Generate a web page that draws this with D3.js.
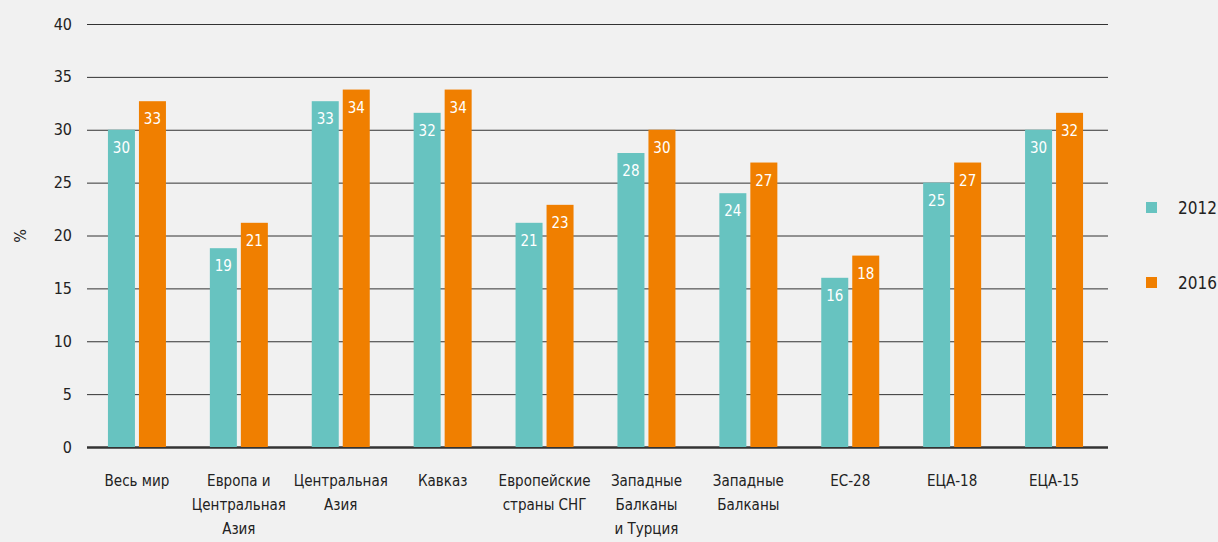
<!DOCTYPE html>
<html>
<head>
<meta charset="utf-8">
<script src="https://cdn.jsdelivr.net/npm/d3@7"></script>
<style>
  body { margin: 0; background: #f1f1f1; }
  svg { display: block; font-family: "Liberation Sans Narrow", "DejaVu Sans Condensed", sans-serif; font-stretch: condensed; }
</style>
</head>
<body>
<div id="chart"></div>
<script>
var categories = [
  ["Весь мир"],
  ["Европа и", "Центральная", "Азия"],
  ["Центральная", "Азия"],
  ["Кавказ"],
  ["Европейские", "страны СНГ"],
  ["Западные", "Балканы", "и Турция"],
  ["Западные", "Балканы"],
  ["ЕС-28"],
  ["ЕЦА-18"],
  ["ЕЦА-15"]
];
var values2012 = [30, 18.8, 32.7, 31.6, 21.2, 27.8, 24, 16, 25, 30];
var values2016 = [32.7, 21.2, 33.8, 33.8, 22.9, 30, 26.9, 18.1, 26.9, 31.6];
var labels2012 = [30, 19, 33, 32, 21, 28, 24, 16, 25, 30];
var labels2016 = [33, 21, 34, 34, 23, 30, 27, 18, 27, 32];
var series = ["2012", "2016"];
var colors = ["#67c3c0", "#f07f00"];
var yTicks = [0, 5, 10, 15, 20, 25, 30, 35, 40];

var width = 1218, height = 542;
var plotLeft = 87, plotRight = 1108, plotTop = 24, plotBottom = 447;

var svg = d3.select("#chart").append("svg")
    .attr("width", width)
    .attr("height", height);

var x = d3.scaleBand()
    .domain(d3.range(categories.length))
    .range([plotLeft - 1, plotRight - 3]);

var y = d3.scaleLinear()
    .domain([0, 40])
    .range([plotBottom, plotTop]);

/* grid lines and tick labels */
svg.append("g")
    .selectAll("line")
    .data(yTicks)
    .enter().append("line")
    .attr("x1", plotLeft)
    .attr("x2", plotRight)
    .attr("y1", function(d) { return y(d) + 0.5; })
    .attr("y2", function(d) { return y(d) + 0.5; })
    .attr("stroke", "#333")
    .attr("stroke-width", function(d) { return d == 0 ? 2.5 : 1; });

svg.append("g")
    .selectAll("text")
    .data(yTicks)
    .enter().append("text")
    .attr("x", 72)
    .attr("y", function(d) { return y(d); })
    .attr("dy", "0.35em")
    .attr("text-anchor", "end")
    .attr("font-size", 16)
    .attr("fill", "#222")
    .text(function(d) { return d; });

svg.append("text")
    .attr("transform", "translate(26,236) rotate(-90)")
    .attr("text-anchor", "middle")
    .attr("font-size", 16)
    .attr("fill", "#222")
    .text("%");

var barW = 27, gap = 4;
var groupOff = (x.bandwidth() - (2 * barW + gap)) / 2;

var allValues = [values2012, values2016];
var allLabels = [labels2012, labels2016];

allValues.forEach(function(vals, s) {
  var g = svg.append("g");
  g.selectAll("rect")
    .data(vals)
    .enter().append("rect")
    .attr("x", function(d, i) { return x(i) + groupOff + s * (barW + gap); })
    .attr("y", function(d) { return y(d); })
    .attr("width", barW)
    .attr("height", function(d) { return y(0) - y(d); })
    .attr("fill", colors[s]);

  g.selectAll("text")
    .data(vals)
    .enter().append("text")
    .attr("x", function(d, i) { return x(i) + groupOff + s * (barW + gap) + barW / 2; })
    .attr("y", function(d) { return y(d) + 18; })
    .attr("dy", "0.35em")
    .attr("text-anchor", "middle")
    .attr("font-size", 15)
    .attr("fill", "#fff")
    .text(function(d, i) { return allLabels[s][i]; });
});

/* category labels */
var cat = svg.append("g")
    .selectAll("text")
    .data(categories)
    .enter().append("text")
    .attr("x", function(d, i) { return x(i) + x.bandwidth() / 2; })
    .attr("y", 481)
    .attr("text-anchor", "middle")
    .attr("font-size", 15)
    .attr("fill", "#222");

cat.selectAll("tspan")
    .data(function(d) { return d; })
    .enter().append("tspan")
    .attr("x", function() { return d3.select(this.parentNode).attr("x"); })
    .attr("dy", function(d, i) { return i == 0 ? "0.35em" : 24; })
    .text(function(d) { return d; });

/* legend */
var legY = [208, 283];
series.forEach(function(name, s) {
  svg.append("rect")
    .attr("x", 1146)
    .attr("y", legY[s] - 6)
    .attr("width", 11)
    .attr("height", 11)
    .attr("fill", colors[s]);
  svg.append("text")
    .attr("x", 1178)
    .attr("y", legY[s])
    .attr("dy", "0.35em")
    .attr("font-size", 17)
    .attr("fill", "#222")
    .text(name);
});
</script>
</body>
</html>
